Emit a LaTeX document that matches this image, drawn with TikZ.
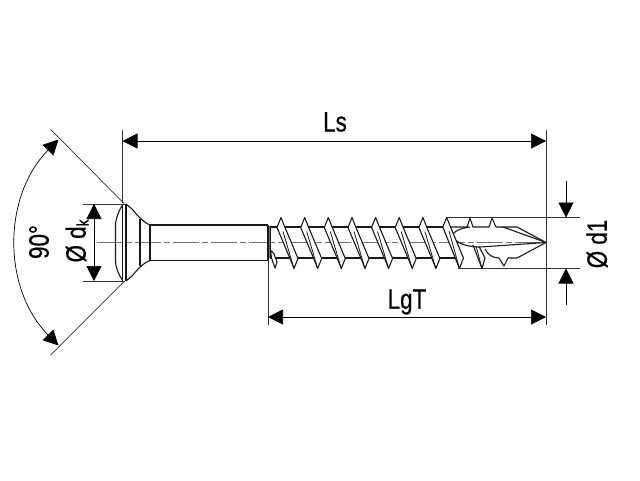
\documentclass[tikz,border=0pt]{standalone}
\usepackage{fontspec}
\setmainfont{Liberation Sans}
\newfontfamily\labfont{Liberation Sans}[FakeStretch=0.8,FakeBold=0.6]
\usetikzlibrary{arrows.meta}
\tikzset{
  x=1pt,y=-1pt,
  part/.style={line width=1.1pt,black!90,line join=round},
  thin part/.style={line width=0.8pt,black!90,line join=round},
  ext/.style={line width=0.7pt,black!80},
  dim/.style={line width=0.7pt,black,{Triangle[length=15pt,width=15pt]}-{Triangle[length=15pt,width=15pt]}},
  dimin/.style={line width=0.7pt,black,-{Triangle[length=15pt,width=15pt]}},
  axis/.style={line width=1pt,black!55,dash pattern=on 26pt off 3pt on 6pt off 3pt},
  lab/.style={font=\labfont\fontsize{28}{30}\selectfont,inner sep=0pt,text=black},
  threadpart/.pic={
    \draw[part,fill=white] (-4,10) -- (0,0) -- (4,10) -- (17,41) -- (13,51) -- (9,41) -- cycle;
    \draw[thin part] (2,14) -- (13,51);
  }
}
\begin{document}
\begin{tikzpicture}
\useasboundingbox (0,0) rectangle (640,480);
\fill[white] (0,0) rectangle (640,480);
\coordinate (hT) at (124.5,204);
\coordinate (hB) at (124.5,281);
\coordinate (lsL) at (122.5,141);
\coordinate (lsR) at (546,141);
\coordinate (lgL) at (268,317);
\coordinate (lgR) at (546,317);
\coordinate (dkT) at (94,204);
\coordinate (dkB) at (94,281);
\coordinate (d1T) at (566,217.5);
\coordinate (d1B) at (566,268.5);
\coordinate (d1Ta) at (566,181);
\coordinate (d1Ba) at (566,305);
% axis
\draw[axis] (97,242.7) -- (546,242.7);
% thread core
\draw[part] (270,227) -- (450,227);
\draw[part] (270,258) -- (464,258);
% thread turns
\foreach \tx in {281,304.7,328.3,352,375.6,399.2,422.9}
  \pic at (\tx,217.5) {threadpart};
% shank
\draw[part] (150,225) -- (268,225) (150,260.5) -- (268,260.5);
\fill[black!55] (268,226) rectangle (270.5,258);
\draw[part] (268,225) -- (268,260.5);
\draw[part] (270.5,226) -- (270.5,258);
\draw[part,fill=white] (270.5,250) -- (274,254) -- (277,262) -- (275,268) -- (271.5,258) -- cycle;
% head
\draw[part] (122.5,205) .. controls (119,210) and (116,218) .. (115.5,224) -- (115.5,262) .. controls (116,268) and (119,276) .. (122.5,280);
\draw[part] (122.5,204) -- (122.5,281);
\draw[part] (126,204) -- (126,281);
\draw[part] (126,204) -- (132,209) .. controls (137,215) and (143,222) .. (150,225);
\draw[part] (126,281) -- (132,276) .. controls (137,270) and (143,263) .. (150,260.5);
\draw[part] (140,219) -- (140,266) (150,225) -- (150,260.5);
% tip outline
\draw[part] (450,227) -- (467,227) -- (470,218) -- (473,227) -- (489,227) -- (492,218) -- (496,227) -- (517,227) -- (546,242.5) -- (517,258) -- (508,258) -- (504,266) -- (499,258);
\draw[part] (459.5,268.5) -- (482,268.5);
% flutes
\draw[part] (546,242.5) -- (503,227);
\draw[part] (546,242.5) -- (480,247) .. controls (464,247) and (452,241) .. (453,234) .. controls (456,230) and (462,228) .. (470,227);
\draw[part] (485,249) .. controls (488,255) and (493,258) .. (499,258);
\draw[part] (473,245) -- (482,268.5) -- (485,258) -- (479,246.5);
\draw[thin part] (476,246) -- (482,268.5);
% last full turn of the thread
\draw[part,fill=white] (446.7,217.5) -- (442.8,227) -- (459.5,268.5) -- (463.5,258) -- (450.5,227) -- cycle;
\draw[thin part] (449,231) -- (459.5,268.5);
% extension lines
\draw[ext] (122.5,130) -- (122.5,203);
\draw[ext] (546,130) -- (546,325);
\draw[ext] (268,260) -- (268,325);
\draw[ext] (83,204) -- (hT);
\draw[ext] (83,281) -- (hB);
\draw[ext] (446,217.5) -- (580,217.5);
\draw[ext] (458,268.5) -- (580,268.5);
\draw[ext] (50.7,129.5) -- (hT);
\draw[ext] (50.7,355) -- (hB);
% dimensions
\draw[dim] (lsL) -- (lsR);
\draw[dim] (lgL) -- (lgR);
\draw[dim] (dkT) -- (dkB);
\draw[dimin] (d1Ta) -- (d1T);
\draw[dimin] (d1Ba) -- (d1B);
\draw[dim] (58.5,139.5) arc[start angle=-135.5,end angle=-224.5,radius=147];
% labels
\node[lab] (ls) at (335,122) {Ls};
\node[lab] (lg) at (407,302) {LgT};
\node[lab,rotate=90] (dk) at (77,241) {Ø d{\fontsize{17}{18}\selectfont\raisebox{-3pt}{k}}};
\node[lab,rotate=90] (d1) at (597,244) {Ø d1};
\node[lab,rotate=90] (ang) at (39,242) {90°};
\end{tikzpicture}
\end{document}
